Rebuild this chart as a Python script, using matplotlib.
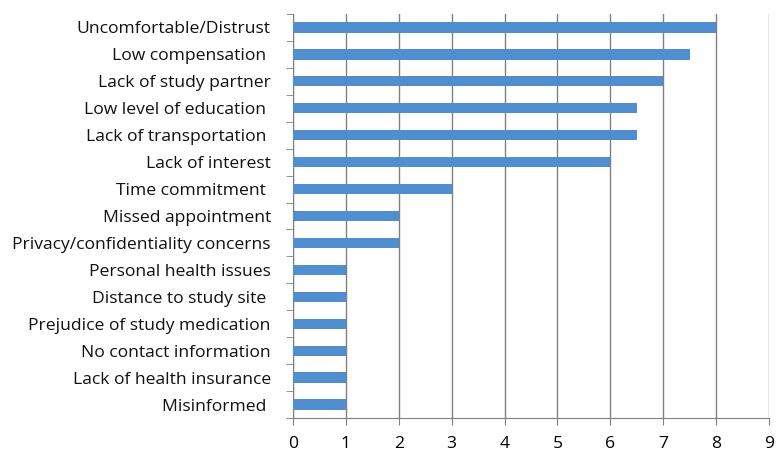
import matplotlib.pyplot as plt
import numpy as np

# Données
categories = [
    "Uncomfortable/Distrust",
    "Low compensation ",
    "Lack of study partner",
    "Low level of education ",
    "Lack of transportation ",
    "Lack of interest",
    "Time commitment ",
    "Missed appointment",
    "Privacy/confidentiality concerns",
    "Personal health issues",
    "Distance to study site ",
    "Prejudice of study medication",
    "No contact information",
    "Lack of health insurance",
    "Misinformed ",
]
values = [8, 7.5, 7, 6.5, 6.5, 6, 3, 2, 2, 1, 1, 1, 1, 1, 1]
xticks = list(range(0, 10))

plt.rcParams['font.family'] = ['Open Sans', 'DejaVu Sans']

fig = plt.figure(figsize=(7.78, 4.57), dpi=100)
ax = fig.add_axes([0.3766, 0.0853, 0.6118, 0.8841])

y = np.arange(len(categories))
ax.barh(y, values, height=0.38, color='#518ED0', zorder=3)

ax.set_ylim(len(categories) - 0.5, -0.5)
ax.set_xlim(0, 9)
ax.set_xticks(xticks)
ax.set_yticks(y)
ax.set_yticklabels(categories, fontsize=12.6, color='#111111')
ax.tick_params(axis='y', length=0, pad=16)
ax.set_yticks(np.arange(-0.5, len(categories)), minor=True)
ax.tick_params(axis='y', which='minor', length=5, color='#808080', direction='out')
ax.tick_params(axis='x', length=5, color='#808080', labelsize=12.6, pad=8)

ax.grid(axis='x', color='#808080', linewidth=1, zorder=0)
for s in ['top', 'right']:
    ax.spines[s].set_visible(False)
for s in ['left', 'bottom']:
    ax.spines[s].set_color('#808080')

fig.savefig('out.png', dpi=100)
